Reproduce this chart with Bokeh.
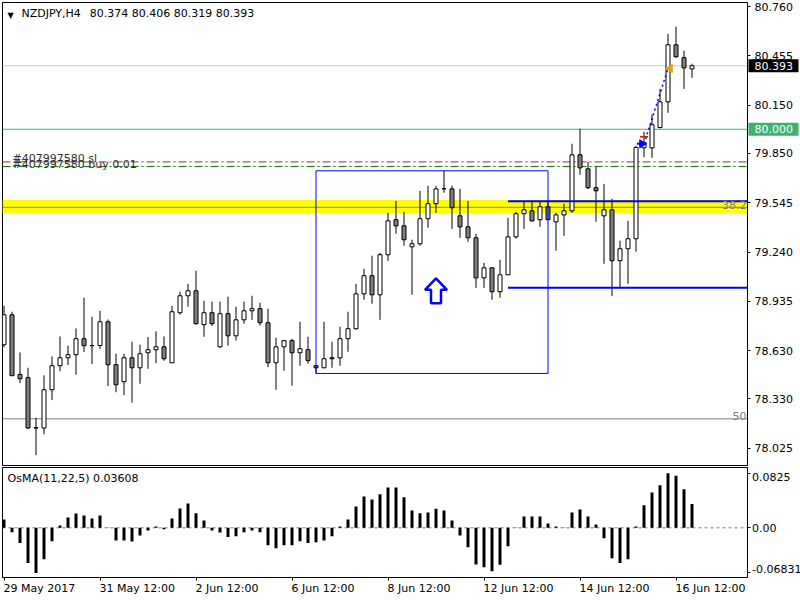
from bokeh.plotting import figure
from bokeh.layouts import column
from bokeh.models import (Range1d, FixedTicker, Span, Label, ColumnDataSource,
                          BoxAnnotation, PrintfTickFormatter)
from bokeh.embed import file_html
from bokeh.resources import INLINE
from bokeh.core.properties import value

# ---------------- data ----------------
opens = [78.666, 78.851, 78.482, 78.462, 78.150, 78.150, 78.387, 78.536, 78.585, 78.604,
         78.703, 78.660, 78.661, 78.808, 78.542, 78.437, 78.585, 78.523, 78.616, 78.635,
         78.653, 78.554, 78.864, 78.969, 79.000, 78.790, 78.864, 78.653, 78.858, 78.721,
         78.820, 78.876, 78.889, 78.802, 78.554, 78.653, 78.691, 78.616, 78.635, 78.536,
         78.523, 78.585, 78.585, 78.703, 78.765, 78.981, 79.093, 78.975, 79.223, 79.440,
         79.402, 79.272, 79.291, 79.446, 79.539, 79.631, 79.631, 79.464, 79.396, 79.328,
         79.080, 79.142, 78.994, 79.099, 79.334, 79.477, 79.495, 79.440, 79.520, 79.427,
         79.470, 79.495, 79.842, 79.755, 79.638, 79.464, 79.501, 79.186, 79.260, 79.322,
         79.885, 79.885, 80.011, 80.170, 80.523, 80.443, 80.374]
highs = [78.907, 78.870, 78.618, 78.523, 78.214, 78.476, 78.593, 78.717, 78.660, 78.767,
         78.957, 78.839, 78.876, 78.822, 78.610, 78.610, 78.684, 78.666, 78.713, 78.748,
         78.717, 78.907, 78.994, 79.043, 79.124, 78.938, 78.932, 78.932, 78.963, 78.901,
         78.932, 78.969, 78.926, 78.889, 78.709, 78.691, 78.703, 78.808, 78.715, 78.540,
         78.808, 78.684, 78.777, 78.870, 79.043, 79.136, 79.217, 79.235, 79.483, 79.557,
         79.489, 79.316, 79.619, 79.650, 79.650, 79.743, 79.650, 79.631, 79.557, 79.353,
         79.173, 79.145, 79.192, 79.452, 79.489, 79.551, 79.551, 79.551, 79.551, 79.483,
         79.539, 79.910, 80.003, 79.799, 79.768, 79.662, 79.570, 79.310, 79.433, 79.898,
         79.984, 80.091, 80.250, 80.591, 80.636, 80.486, 80.406]
lows = [78.651, 78.474, 78.428, 78.143, 77.982, 78.112, 78.323, 78.502, 78.540, 78.480,
        78.620, 78.546, 78.639, 78.410, 78.372, 78.354, 78.307, 78.424, 78.517, 78.552,
        78.567, 78.554, 78.851, 78.901, 78.790, 78.715, 78.783, 78.647, 78.660, 78.691,
        78.796, 78.820, 78.785, 78.527, 78.387, 78.505, 78.412, 78.536, 78.548, 78.488,
        78.523, 78.523, 78.536, 78.622, 78.759, 78.944, 78.920, 78.820, 79.186, 79.353,
        79.279, 78.975, 79.279, 79.390, 79.483, 79.607, 79.384, 79.328, 79.303, 79.018,
        79.018, 78.944, 78.957, 79.099, 79.322, 79.384, 79.427, 79.396, 79.440, 79.248,
        79.340, 79.483, 79.718, 79.630, 79.427, 79.167, 78.967, 79.022, 79.043, 79.242,
        79.827, 79.823, 80.005, 80.102, 80.443, 80.250, 80.319]
closes = [78.851, 78.474, 78.455, 78.150, 78.152, 78.387, 78.536, 78.585, 78.604, 78.703,
          78.660, 78.661, 78.808, 78.542, 78.418, 78.585, 78.523, 78.610, 78.635, 78.653,
          78.579, 78.870, 78.969, 79.000, 78.796, 78.864, 78.796, 78.858, 78.721, 78.820,
          78.876, 78.889, 78.802, 78.554, 78.653, 78.691, 78.616, 78.641, 78.567, 78.523,
          78.579, 78.579, 78.703, 78.765, 78.981, 79.093, 78.975, 79.223, 79.433, 79.402,
          79.316, 79.291, 79.446, 79.539, 79.631, 79.632, 79.514, 79.396, 79.328, 79.080,
          79.142, 78.994, 79.099, 79.334, 79.477, 79.501, 79.433, 79.520, 79.440, 79.470,
          79.495, 79.842, 79.761, 79.638, 79.619, 79.501, 79.186, 79.260, 79.322, 79.887,
          79.918, 80.028, 80.170, 80.523, 80.449, 80.380, 80.393]
osma = [0.0126, -0.0066, -0.0232, -0.0535, -0.0683, -0.0475, -0.0202, 0.0035, 0.0157, 0.0217,
        0.0187, 0.0141, 0.0187, 0.0004, -0.0192, -0.0192, -0.0207, -0.0116, -0.0040, 0.0020,
        -0.0020, 0.0141, 0.0293, 0.0369, 0.0222, 0.0111, -0.0040, -0.0071, -0.0141, -0.0126,
        -0.0066, -0.0040, -0.0066, -0.0263, -0.0308, -0.0263, -0.0263, -0.0202, -0.0232, -0.0217,
        -0.0192, -0.0126, 0.0020, 0.0126, 0.0323, 0.0475, 0.0429, 0.0510, 0.0611, 0.0611,
        0.0465, 0.0263, 0.0222, 0.0232, 0.0288, 0.0263, 0.0111, -0.0116, -0.0293, -0.0556,
        -0.0596, -0.0657, -0.0561, -0.0278, -0.0004, 0.0172, 0.0172, 0.0172, 0.0066, 0.0020,
        0.0005, 0.0232, 0.0278, 0.0172, 0.0051, -0.0157, -0.0460, -0.0535, -0.0475, 0.0020,
        0.0343, 0.0535, 0.0646, 0.0825, 0.0788, 0.0586, 0.03608]

price_ticks = [80.760, 80.455, 80.150, 79.850, 79.545, 79.240, 78.935, 78.630, 78.330, 78.025]
osma_ticks = [0.0825, 0.0, -0.06831]
osma_tick_labels = ["0.0825", "0.00", "-0.06831"]
time_tick_bars = [0, 12, 24, 36, 48, 60, 72, 84]
time_tick_labels = ["29 May 2017", "31 May 12:00", "2 Jun 12:00", "6 Jun 12:00",
                    "8 Jun 12:00", "12 Jun 12:00", "14 Jun 12:00", "16 Jun 12:00"]

symbol = "NZDJPY,H4"
level_80 = 80.000
sl_price = 79.798
buy_price = 79.769
order_id = "#407997580"
fib_levels = [79.517, 78.207]
fib_names = ["38.2", "50"]
zone_top, zone_bottom = 79.562, 79.480
box_left_bar, box_right_bar, box_low, box_high = 39, 68, 78.488, 79.743
blue_start_bar = 63
blue_levels = [79.554, 79.018]
arrow_bar, arrow_price = 54, 79.00
trade_open_bar, trade_open_price = 80, 79.910
trade_close_bar, trade_close_price = 83, 80.376
trade_mod_price = 79.953

# ---------------- layout constants ----------------
FONT = "DejaVu Sans"
FS = "11px"
PX_PER_BAR = 8.0
PX_PER_PRICE = 161.5
XS, XE = -0.1875, 92.9375
YS, YE = 77.918, 80.785
OS, OE = -0.0753, 0.0914
# hollow up-arrow outline, pixel offsets from its anchor (x right, y up)
ARROW_SHAPE = [(0, 12.5), (11, 1), (5, 1), (5, -12.5), (-5, -12.5), (-5, 1), (-11, 1)]
TAG_W, TAG_H = 50, 13          # price tag box size in px
TAG_CENTER_PX = 26             # tag centre, px right of the frame edge

bars = list(range(len(opens)))
bull = [c >= o for o, c in zip(opens, closes)]
src = ColumnDataSource(dict(
    x=bars, h=highs, l=lows,
    top=[max(o, c) for o, c in zip(opens, closes)],
    bot=[min(o, c) for o, c in zip(opens, closes)],
    fill=["white" if b else "#808080" for b in bull]))

# ---------------- main price panel ----------------
p = figure(width=800, height=466, x_range=Range1d(XS, XE), y_range=Range1d(YS, YE),
           x_axis_location=None, y_axis_location="right", toolbar_location=None,
           output_backend="svg", title=None,
           min_border_left=2, min_border_right=53, min_border_top=2, min_border_bottom=1)
p.grid.visible = False
p.outline_line_color = "black"
p.outline_line_alpha = 1.0
ya = p.yaxis[0]
ya.ticker = FixedTicker(ticks=price_ticks)
ya.formatter = PrintfTickFormatter(format="%.3f")
ya.major_tick_out = 3
ya.major_tick_in = 0
ya.minor_tick_line_color = None
ya.axis_line_color = "black"
ya.major_tick_line_color = "black"
ya.major_label_standoff = 4
ya.major_label_text_font = FONT
ya.major_label_text_font_size = FS
ya.major_label_text_color = "black"

# background objects
p.add_layout(BoxAnnotation(bottom=zone_bottom, top=zone_top, fill_color="yellow",
                           fill_alpha=1.0, line_color=None, level="underlay"))
for lv in fib_levels:
    p.add_layout(Span(location=lv, dimension="width", line_color="#808080",
                      line_width=1, level="underlay"))
p.add_layout(Span(location=closes[-1], dimension="width", line_color="#c8c8c8",
                  line_width=1, level="underlay"))
p.add_layout(Span(location=level_80, dimension="width", line_color="#3cb371",
                  line_width=1, level="underlay"))
p.add_layout(Span(location=sl_price, dimension="width", line_color="#a52a2a",
                  line_width=1, line_dash="8 3 2 3", level="underlay"))
p.add_layout(Span(location=buy_price, dimension="width", line_color="#007000",
                  line_width=1, line_dash="8 3 2 3", level="underlay"))

# candles
p.segment(x0="x", y0="h", x1="x", y1="l", source=src, line_color="black", line_width=1)
p.vbar(x="x", width=0.5, top="top", bottom="bot", fill_color="fill",
       line_color="black", line_width=1, source=src)

# foreground objects
p.quad(left=[box_left_bar], right=[box_right_bar], bottom=[box_low], top=[box_high],
       fill_color=None, line_color="#0000ff", line_width=1)
p.segment(x0=[blue_start_bar] * 2, y0=blue_levels, x1=[XE] * 2, y1=blue_levels,
          line_color="#0000ff", line_width=2)
p.patch(x=[arrow_bar + dx / PX_PER_BAR for dx, dy in ARROW_SHAPE],
        y=[arrow_price + dy / PX_PER_PRICE for dx, dy in ARROW_SHAPE],
        fill_color="white", line_color="#0000ff", line_width=2.5)
p.segment(x0=[trade_open_bar], y0=[trade_open_price], x1=[trade_close_bar],
          y1=[trade_close_price], line_color="#0000ff", line_width=1.5, line_dash="2 3")
p.scatter(x=[trade_open_bar - 0.25], y=[trade_open_price], marker="triangle",
          angle=-1.5708, size=8, fill_color="#0000ff", line_color="#0000ff")
p.scatter(x=[trade_open_bar - 0.5], y=[trade_open_price], marker="dash", size=6,
          line_color="#0000ff", line_width=2)
p.scatter(x=[trade_open_bar], y=[trade_mod_price], marker="dash", size=8,
          line_color="#ff0000", line_width=1.5)
p.scatter(x=[trade_close_bar + 0.25], y=[trade_close_price], marker="triangle",
          angle=1.5708, size=8, fill_color="#daa520", line_color="#daa520")

# texts inside the chart
hdr = (f"{symbol}\u2002 {opens[-1]:.3f} {highs[-1]:.3f} "
       f"{lows[-1]:.3f} {closes[-1]:.3f}")
p.add_layout(Label(x=XS, y=YE, x_offset=19, y_offset=-4, text=hdr, text_font=FONT,
                   text_font_size=FS, text_color="black", text_baseline="top"))
p.add_layout(Label(x=XS, y=YE, x_offset=5, y_offset=-8, text="\u25bc", text_font=FONT,
                   text_font_size="8px", text_color="black", text_baseline="top"))
p.add_layout(Label(x=XS, y=sl_price, x_offset=10, y_offset=3, text=f"{order_id} sl",
                   text_font=FONT, text_font_size=FS, text_color="#303030",
                   text_baseline="alphabetic"))
p.add_layout(Label(x=XS, y=buy_price, x_offset=10, y_offset=2,
                   text=f"{order_id} buy 0.01", text_font=FONT, text_font_size=FS,
                   text_color="#303030", text_baseline="alphabetic"))
p.text(x=[XE] * len(fib_levels), y=fib_levels, text=fib_names, x_offset=-1,
       y_offset=-2.5, text_font=value(FONT), text_font_size=FS, text_color="#808080",
       text_align="right", text_baseline="alphabetic", level="overlay")

# price tags on the axis (overlay level, outside the frame)
tag_prices = [level_80, closes[-1]]
tag_colors = ["#3cb371", "black"]
p.rect(x=[XE + TAG_CENTER_PX / PX_PER_BAR] * 2, y=tag_prices, width=TAG_W, height=TAG_H,
       width_units="screen", height_units="screen", fill_color=tag_colors,
       line_color=None, level="overlay")
p.text(x=[XE] * 2, y=tag_prices, text=[f"{v:.3f}" for v in tag_prices], x_offset=7,
       text_font=value(FONT), text_font_size=FS, text_color="white",
       text_align="left", text_baseline="middle", level="overlay")

# ---------------- OsMA panel ----------------
p2 = figure(width=800, height=134, x_range=p.x_range, y_range=Range1d(OS, OE),
            x_axis_location="below", y_axis_location="right", toolbar_location=None,
            output_backend="svg", title=None,
            min_border_left=2, min_border_right=53, min_border_top=1, min_border_bottom=23)
p2.grid.visible = False
p2.outline_line_color = "black"
p2.outline_line_alpha = 1.0
for ax, ticks in ((p2.yaxis[0], osma_ticks), (p2.xaxis[0], time_tick_bars)):
    ax.ticker = FixedTicker(ticks=ticks)
    ax.major_label_overrides = {t: "" for t in ticks}
    ax.major_tick_out = 3
    ax.major_tick_in = 0
    ax.minor_tick_line_color = None
    ax.axis_line_color = "black"
    ax.major_tick_line_color = "black"

p2.add_layout(Span(location=0, dimension="width", line_color="#808080",
                   line_width=1, line_dash="3 3", level="underlay"))
p2.vbar(x=bars, width=0.375, top=osma, bottom=0, fill_color="black", line_color=None)

p2.add_layout(Label(x=XS, y=OE, x_offset=5, y_offset=-4,
                    text=f"OsMA(11,22,5) {osma[-1]:.5f}", text_font=FONT,
                    text_font_size=FS, text_color="black", text_baseline="top"))
# tick labels placed like the terminal does (outside the frame, overlay level)
p2.text(x=[XE] * 3, y=osma_ticks, text=osma_tick_labels, x_offset=4.5,
        y_offset=[4, 0, -4], text_font=value(FONT), text_font_size=FS,
        text_color="black", text_align="left", text_baseline="middle", level="overlay")
p2.text(x=time_tick_bars, y=[OS] * len(time_tick_bars), text=time_tick_labels,
        x_offset=-0.5, y_offset=4, text_font=value(FONT), text_font_size=FS,
        text_color="black", text_align="left", text_baseline="top", level="overlay")

layout = column(p, p2, spacing=0)
open("out.html", "w").write(file_html(layout, INLINE))
